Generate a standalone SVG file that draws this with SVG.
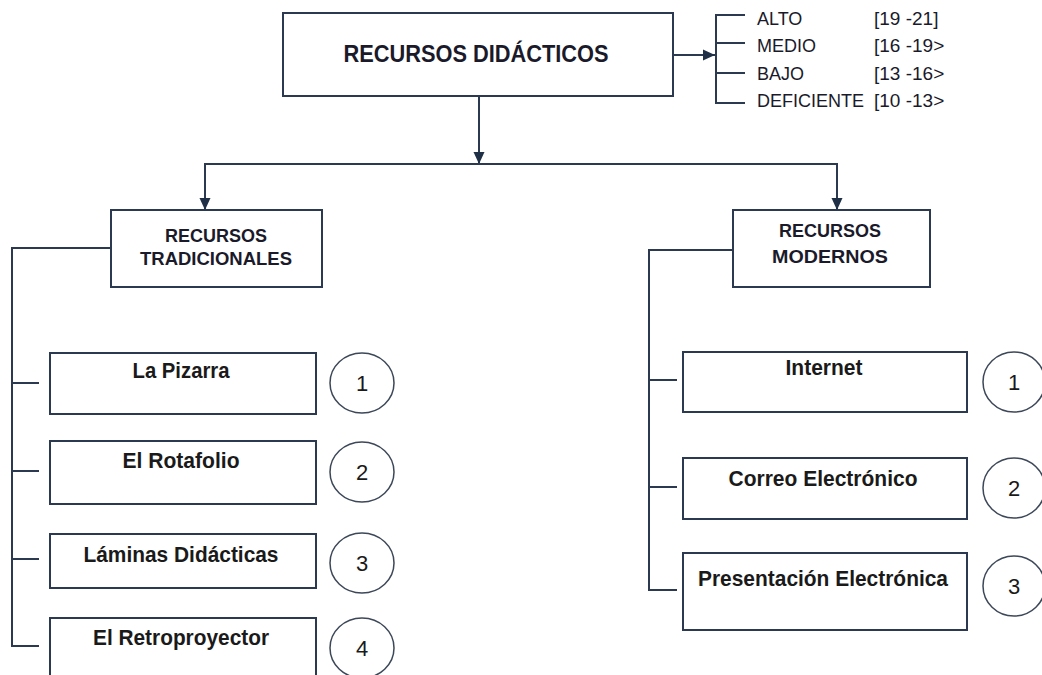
<svg xmlns="http://www.w3.org/2000/svg" width="1042" height="675" viewBox="0 0 1042 675">
<defs>
<marker id="arr" markerUnits="userSpaceOnUse" markerWidth="12" markerHeight="12" refX="12" refY="6" orient="auto">
<path d="M0,0.5 L12,6 L0,11.5 Z" fill="#1f2f45"/>
</marker>
<style>
.box{fill:#fff;stroke:#2b3a50;stroke-width:2}
.circ{fill:#fff;stroke:#3c4758;stroke-width:1.5}
.ln{fill:none;stroke:#2b3a50;stroke-width:2}
.title{font-family:"Liberation Sans",Arial,sans-serif;font-weight:bold;fill:#1a1a2a;text-anchor:middle}
.item{font-family:"Liberation Sans",Arial,sans-serif;font-weight:bold;font-size:22px;fill:#1a1a1a;text-anchor:middle}
.leg{font-family:"Liberation Sans",Arial,sans-serif;font-size:18px;fill:#1a1a2a}
.rng{font-family:"Liberation Sans",Arial,sans-serif;font-size:19px;fill:#1a1a2a}
.num{font-family:"Liberation Sans",Arial,sans-serif;font-size:22px;fill:#1a1a1a;text-anchor:middle}
</style>
</defs>
<rect width="1042" height="675" fill="#fff"/>

<g id="connectors">
<line class="ln" x1="673" y1="55" x2="715" y2="55" marker-end="url(#arr)"/>
<path class="ln" d="M745,15 H716 V103 H745 M716,43 H745 M716,73 H745"/>
<line class="ln" x1="479" y1="96" x2="479" y2="164" marker-end="url(#arr)"/>
<path class="ln" d="M205,164 H837"/>
<line class="ln" x1="205" y1="163" x2="205" y2="210" marker-end="url(#arr)"/>
<line class="ln" x1="837" y1="163" x2="837" y2="210" marker-end="url(#arr)"/>
<path class="ln" d="M111,248 H12 V646 H39 M12,383 H39 M12,471 H39 M12,559 H39"/>
<path class="ln" d="M734,250 H649 V590 H677 M649,380 H677 M649,487 H677"/>
</g>

<g id="main">
<rect class="box" x="283" y="13" width="390" height="83"/>
<text class="title" x="476" y="62" font-size="23" textLength="265" lengthAdjust="spacingAndGlyphs">RECURSOS DIDÁCTICOS</text>
</g>

<g id="legend">
<text class="leg" x="757" y="25">ALTO</text>
<text class="leg" x="757" y="52">MEDIO</text>
<text class="leg" x="757" y="80">BAJO</text>
<text class="leg" x="757" y="107">DEFICIENTE</text>
<text class="rng" x="874" y="25">[19 -21]</text>
<text class="rng" x="874" y="52">[16 -19&gt;</text>
<text class="rng" x="874" y="80">[13 -16&gt;</text>
<text class="rng" x="874" y="107">[10 -13&gt;</text>
</g>

<g id="tradicionales">
<rect class="box" x="111" y="210" width="211" height="77"/>
<text class="title" x="216" y="242" font-size="19" textLength="102" lengthAdjust="spacingAndGlyphs">RECURSOS</text>
<text class="title" x="216" y="265" font-size="19" textLength="152" lengthAdjust="spacingAndGlyphs">TRADICIONALES</text>
</g>

<g id="modernos">
<rect class="box" x="733" y="210" width="197" height="77"/>
<text class="title" x="830" y="237" font-size="19" textLength="102" lengthAdjust="spacingAndGlyphs">RECURSOS</text>
<text class="title" x="830" y="263" font-size="19" textLength="116" lengthAdjust="spacingAndGlyphs">MODERNOS</text>
</g>

<g id="pizarra">
<rect class="box" x="50" y="353" width="266" height="61"/>
<text class="item" x="181" y="378" textLength="97" lengthAdjust="spacingAndGlyphs">La Pizarra</text>
</g>
<g id="num-t1"><ellipse class="circ" cx="362" cy="383" rx="32" ry="30"/><text class="num" x="362" y="391">1</text></g>

<g id="rotafolio">
<rect class="box" x="50" y="441" width="266" height="63"/>
<text class="item" x="181" y="468" textLength="117" lengthAdjust="spacingAndGlyphs">El Rotafolio</text>
</g>
<g id="num-t2"><ellipse class="circ" cx="362" cy="472" rx="32" ry="30"/><text class="num" x="362" y="480">2</text></g>

<g id="laminas">
<rect class="box" x="50" y="534" width="266" height="54"/>
<text class="item" x="181" y="562" textLength="195" lengthAdjust="spacingAndGlyphs">Láminas Didácticas</text>
</g>
<g id="num-t3"><ellipse class="circ" cx="362" cy="563" rx="32" ry="30"/><text class="num" x="362" y="571">3</text></g>

<g id="retroproyector">
<rect class="box" x="50" y="618" width="266" height="70"/>
<text class="item" x="181" y="645" textLength="176" lengthAdjust="spacingAndGlyphs">El Retroproyector</text>
</g>
<g id="num-t4"><ellipse class="circ" cx="362" cy="648" rx="32" ry="30"/><text class="num" x="362" y="656">4</text></g>

<g id="internet">
<rect class="box" x="683" y="352" width="284" height="60"/>
<text class="item" x="824" y="375" textLength="77" lengthAdjust="spacingAndGlyphs">Internet</text>
</g>
<g id="num-m1"><ellipse class="circ" cx="1014" cy="382" rx="31" ry="30"/><text class="num" x="1014" y="390">1</text></g>

<g id="correo">
<rect class="box" x="683" y="458" width="284" height="61"/>
<text class="item" x="823" y="486" textLength="189" lengthAdjust="spacingAndGlyphs">Correo Electrónico</text>
</g>
<g id="num-m2"><ellipse class="circ" cx="1014" cy="488" rx="31" ry="30"/><text class="num" x="1014" y="496">2</text></g>

<g id="presentacion">
<rect class="box" x="683" y="553" width="284" height="77"/>
<text class="item" x="823" y="586" textLength="250" lengthAdjust="spacingAndGlyphs">Presentación Electrónica</text>
</g>
<g id="num-m3"><ellipse class="circ" cx="1014" cy="586" rx="31" ry="30"/><text class="num" x="1014" y="594">3</text></g>
</svg>
